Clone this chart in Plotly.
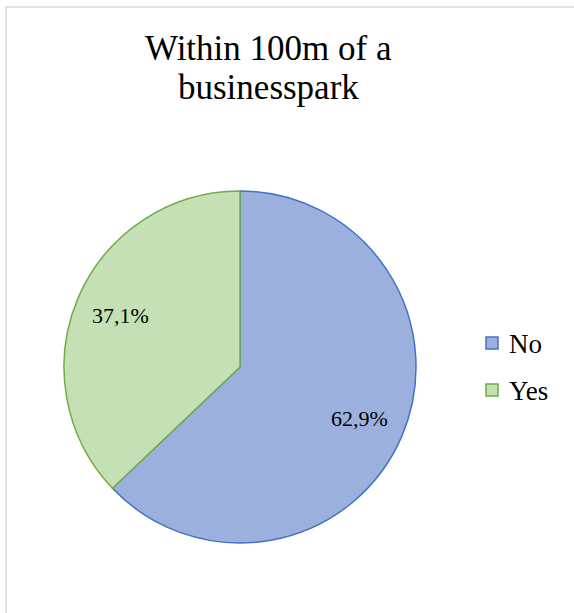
import math
import plotly.graph_objects as go

# Data
categories = ["No", "Yes"]
shares = [62.9, 37.1]
title_lines = ["Within 100m of a", "businesspark"]

# Styling
fill_colors = ["#9cb0de", "#c5e0b4"]
edge_colors = ["#4472c4", "#70ad47"]
FONT = "Liberation Serif, Times New Roman, serif"
W, H = 574, 613

# Pie geometry in pixels (centre and radius)
cx, cy, R = 240, 367, 176


def px(x):
    return x / W


def py(y):
    return 1 - y / H


fig = go.Figure()
fig.add_trace(go.Pie(
    labels=categories,
    values=shares,
    sort=False,
    direction="clockwise",
    rotation=0,
    textinfo="none",
    hoverinfo="label+percent",
    showlegend=False,
    marker=dict(colors=fill_colors, line=dict(color=edge_colors, width=1.5)),
    domain=dict(x=[px(cx - R), px(cx + R)], y=[py(cy + R), py(cy - R)]),
))

annotations = []

# Title, one annotation per line for tighter line spacing
for i, line in enumerate(title_lines):
    annotations.append(dict(
        x=px(268), y=py(49 + i * 38), xref="paper", yref="paper",
        text=line, showarrow=False, xanchor="center", yanchor="middle",
        font=dict(family=FONT, size=35, color="black"),
    ))

# Data labels placed along each slice's mid-angle
total = sum(shares)
start = 0.0
for cat, v in zip(categories, shares):
    mid = (start + v / 2) / total * 2 * math.pi
    start += v
    lx = cx + 0.74 * R * math.sin(mid)
    ly = cy - 0.74 * R * math.cos(mid)
    annotations.append(dict(
        x=px(lx), y=py(ly), xref="paper", yref="paper",
        text=f"{v / total * 100:.1f}%".replace(".", ","),
        showarrow=False, font=dict(family=FONT, size=22, color="black"),
        xanchor="center", yanchor="middle",
    ))

# Legend drawn as squares and labels
shapes = []
leg_x, leg_y0, leg_step, sq = 486, 343, 47, 12
for i, cat in enumerate(categories):
    yc = leg_y0 + i * leg_step
    shapes.append(dict(
        type="rect", xref="paper", yref="paper",
        x0=px(leg_x), x1=px(leg_x + sq), y0=py(yc + sq / 2), y1=py(yc - sq / 2),
        fillcolor=fill_colors[i], line=dict(color=edge_colors[i], width=1.5),
    ))
    annotations.append(dict(
        x=px(leg_x + sq + 9), y=py(yc + 1), xref="paper", yref="paper",
        text=cat, showarrow=False, xanchor="left", yanchor="middle",
        font=dict(family=FONT, size=27, color="black"),
    ))

# Chart area border
shapes.append(dict(
    type="rect", xref="paper", yref="paper",
    x0=px(6), x1=px(W + 10), y0=py(H + 10), y1=py(7),
    line=dict(color="#d9d9d9", width=1.5), fillcolor="rgba(0,0,0,0)", layer="below",
))

fig.update_layout(
    width=W, height=H,
    margin=dict(l=0, r=0, t=0, b=0),
    paper_bgcolor="white",
    plot_bgcolor="white",
    annotations=annotations,
    shapes=shapes,
)

fig.write_html("out.html")
